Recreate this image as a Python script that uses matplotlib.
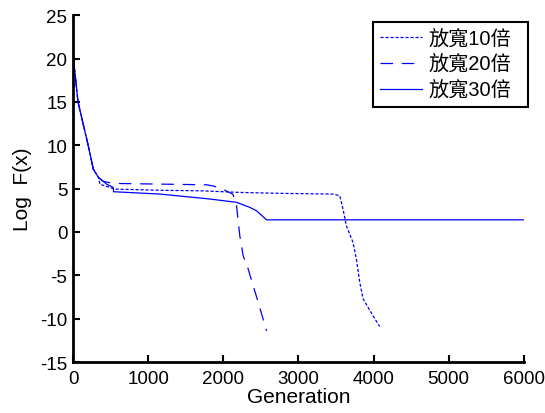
import matplotlib
matplotlib.use('Agg')
from matplotlib import pyplot as plt

# data
gen10 = [0, 66, 204, 270, 337, 359, 559, 1200, 1689, 2220, 2800, 3461, 3551, 3594, 3639, 3727, 3772, 3817, 3861, 3993, 4082]
val10 = [20.5, 15, 9.9, 7.25, 6.3, 5.5, 4.94, 4.8, 4.75, 4.56, 4.45, 4.37, 4.17, 2.64, 0.71, -1.2, -3.1, -5.8, -7.7, -9.66, -10.9]

gen20 = [0, 66, 204, 270, 337, 403, 536, 1778, 1866, 1977, 2128, 2177, 2220, 2265, 2332, 2398, 2465, 2576]
val20 = [20.5, 15, 9.9, 7.25, 6.3, 5.83, 5.6, 5.44, 5.3, 5.0, 4.36, 3.0, -0.44, -2.75, -4.28, -6.2, -8.1, -11.4]

gen30 = [0, 66, 204, 270, 337, 450, 536, 540, 1157, 1822, 2177, 2354, 2443, 2576, 6000]
val30 = [20.5, 15, 9.9, 7.25, 6.3, 5.5, 5.13, 4.64, 4.37, 3.8, 3.42, 2.83, 2.44, 1.4, 1.4]

labels = ['放寬10倍', '放寬20倍', '放寬30倍']
xticks = [0, 1000, 2000, 3000, 4000, 5000, 6000]
yticks = [-15, -10, -5, 0, 5, 10, 15, 20, 25]

plt.rcParams['font.family'] = ['Liberation Sans', 'Noto Sans CJK TC']
plt.rcParams['axes.unicode_minus'] = False

fig = plt.figure(figsize=(5.45, 4.14), dpi=100)
ax = fig.add_axes([0.134, 0.123, 0.827, 0.838])

ax.plot(gen10, val10, color='#0000ff', lw=0.9, dashes=(2.5, 1.5), label=labels[0])
ax.plot(gen20, val20, color='#0000ff', lw=0.9, dashes=(10, 7), label=labels[1])
ax.plot(gen30, val30, color='#0000ff', lw=0.9, label=labels[2])

ax.set_xlim(0, 6000)
ax.set_ylim(-15, 25)
ax.set_xticks(xticks)
ax.set_yticks(yticks)
ax.spines['top'].set_visible(False)
ax.spines['right'].set_visible(False)
ax.spines['left'].set_linewidth(2)
ax.spines['bottom'].set_linewidth(2)
ax.tick_params(direction='in', length=5, width=1.5, labelsize=13.5)
ax.tick_params(axis='x', pad=6)
ax.tick_params(axis='y', pad=4)

ax.set_xlabel('Generation', fontsize=15, labelpad=0)
ax.set_ylabel('Log  F(x)', fontsize=15, labelpad=6)

leg = ax.legend(loc='upper left', bbox_to_anchor=(0.665, 0.5, 0.3437, 0.48),
                mode='expand', fontsize=14.5, fancybox=False, framealpha=1,
                edgecolor='black', handlelength=2.1, borderpad=0.35,
                labelspacing=0.33, handletextpad=0.3, borderaxespad=0)
leg.get_frame().set_linewidth(1.5)

fig.savefig('out.png', dpi=100)
